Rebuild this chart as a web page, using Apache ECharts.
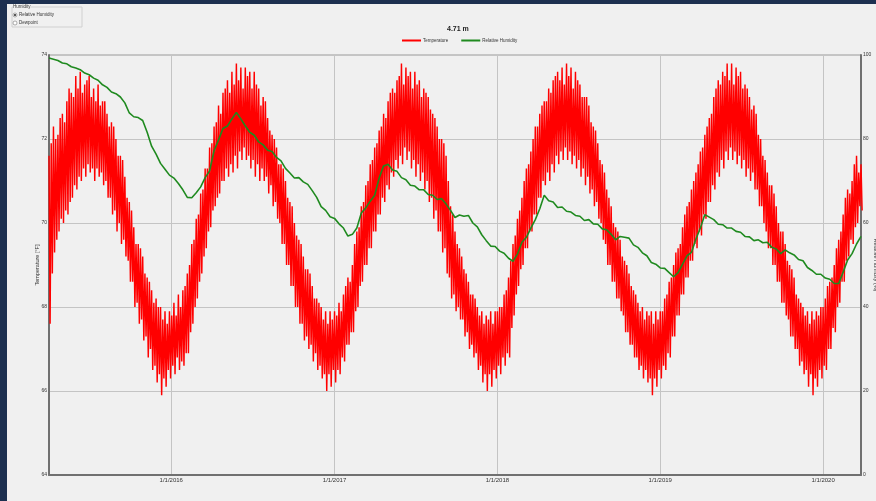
<!DOCTYPE html>
<html>
<head>
<meta charset="utf-8">
<script src="https://cdn.jsdelivr.net/npm/echarts@6/dist/echarts.min.js"></script>
<style>
  html, body { margin: 0; padding: 0; width: 876px; height: 501px; overflow: hidden; background: #1d3050; }
  #chart { position: absolute; left: 7px; top: 4px; width: 869px; height: 497px; background: #f0f0f0; }
</style>
</head>
<body>
<div id="chart"></div>
<script>
// Sensor record starting 2 Apr 2015.
// Temperature: high and low of each 5-day window (°F).
// Relative humidity: one reading every 10 days (%).
const startYear = 2015, startMonth = 3, startDay = 2;
const tempStepDays = 5;
const humidityStepDays = 10;

const tempHigh = [
  71.6, 71.9, 72.3, 72.0, 72.1, 72.5, 72.6, 72.4, 72.9, 73.2,
  73.1, 73.0, 73.5, 73.2, 73.6, 73.1, 73.3, 73.4, 73.5, 73.0,
  73.2, 72.9, 73.3, 72.8, 72.9, 72.9, 72.6, 72.3, 72.4, 72.3,
  72.0, 71.6, 71.6, 71.5, 71.1, 70.6, 70.5, 70.3, 69.9, 69.5,
  69.5, 69.4, 69.2, 68.8, 68.7, 68.6, 68.4, 68.1, 68.2, 68.0,
  68.0, 67.7, 67.9, 67.6, 67.9, 67.8, 68.1, 67.8, 68.3, 68.0,
  68.4, 68.5, 68.8, 69.0, 69.5, 69.6, 70.1, 70.2, 70.7, 70.8,
  71.3, 71.3, 71.8, 71.9, 72.3, 72.4, 72.8, 72.6, 73.1, 73.2,
  73.4, 73.1, 73.6, 73.3, 73.8, 73.4, 73.7, 73.2, 73.7, 73.5,
  73.6, 73.2, 73.6, 73.3, 73.2, 72.8, 73.0, 72.9, 72.5, 72.2,
  72.1, 72.0, 71.8, 71.4, 71.4, 71.3, 71.0, 70.6, 70.5, 70.4,
  70.0, 69.7, 69.6, 69.5, 69.2, 68.9, 68.9, 68.8, 68.5, 68.2,
  68.2, 68.1, 68.0, 67.7, 67.9, 67.6, 67.9, 67.7, 67.9, 67.8,
  68.1, 67.9, 68.3, 68.5, 68.7, 68.6, 69.0, 69.5, 69.8, 69.9,
  70.4, 70.5, 70.9, 71.0, 71.4, 71.5, 71.8, 71.9, 72.2, 72.3,
  72.6, 72.5, 72.9, 73.1, 73.2, 73.1, 73.4, 73.5, 73.8, 73.3,
  73.7, 73.5, 73.6, 73.2, 73.6, 73.3, 73.4, 73.0, 73.2, 73.1,
  73.0, 72.7, 72.6, 72.5, 72.3, 72.0, 72.0, 71.9, 71.6, 71.0,
  70.4, 70.2, 69.8, 69.5, 69.4, 69.2, 68.9, 68.8, 68.6, 68.3,
  68.3, 68.2, 68.0, 67.8, 67.9, 67.6, 67.8, 67.7, 67.9, 67.6,
  67.9, 67.9, 68.0, 68.0, 68.3, 68.4, 68.7, 69.1, 69.5, 69.7,
  70.1, 70.3, 70.6, 71.0, 71.3, 71.4, 71.7, 72.0, 72.3, 72.3,
  72.6, 72.8, 72.9, 72.9, 73.2, 73.1, 73.4, 73.5, 73.6, 73.4,
  73.7, 73.3, 73.8, 73.5, 73.7, 73.2, 73.6, 73.4, 73.3, 73.0,
  73.0, 73.0, 72.8, 72.4, 72.3, 72.2, 71.9, 71.5, 71.4, 71.2,
  70.8, 70.6, 70.4, 70.0, 69.9, 69.8, 69.6, 69.2, 69.1, 69.0,
  68.8, 68.5, 68.4, 68.3, 68.1, 67.9, 68.0, 67.7, 67.9, 67.8,
  67.9, 67.6, 67.9, 67.7, 67.9, 67.9, 68.2, 68.3, 68.6, 68.7,
  69.0, 69.3, 69.4, 69.5, 69.9, 70.2, 70.4, 70.5, 70.8, 71.0,
  71.2, 71.4, 71.7, 71.8, 72.1, 72.3, 72.5, 72.6, 73.0, 73.2,
  73.4, 73.3, 73.6, 73.5, 73.8, 73.4, 73.8, 73.3, 73.7, 73.5,
  73.6, 73.2, 73.3, 73.2, 73.0, 72.7, 72.8, 72.6, 72.1, 72.0,
  71.6, 71.5, 71.2, 70.9, 70.9, 70.7, 70.4, 70.0, 69.8, 69.8,
  69.5, 69.1, 69.0, 68.9, 68.7, 68.3, 68.2, 68.1, 68.0, 67.8,
  67.9, 67.6, 67.9, 67.7, 67.9, 67.8, 68.0, 68.0, 68.2, 68.5,
  68.6, 68.7, 69.0, 69.4, 69.6, 69.8, 70.2, 70.6, 70.8, 70.7,
  71.0, 71.4, 71.6, 71.2, 71.4
];

const tempLow = [
  67.6, 68.8, 69.3, 69.6, 69.8, 70.1, 70.0, 70.3, 70.2, 70.5,
  70.6, 70.9, 70.8, 71.1, 71.0, 71.3, 71.1, 71.4, 71.2, 71.3,
  71.0, 71.3, 71.1, 71.2, 70.9, 71.0, 70.6, 70.6, 70.2, 70.3,
  69.8, 70.0, 69.5, 69.6, 69.2, 69.1, 68.6, 68.6, 68.0, 68.1,
  67.6, 67.7, 67.2, 67.3, 66.8, 67.0, 66.5, 66.6, 66.2, 66.4,
  65.9, 66.3, 66.1, 66.5, 66.3, 66.6, 66.4, 66.8, 66.5, 66.7,
  66.6, 66.9, 66.9, 67.4, 67.6, 68.0, 68.2, 68.6, 68.8, 69.2,
  69.4, 69.8, 69.9, 70.3, 70.4, 70.6, 70.7, 71.0, 71.0, 71.3,
  71.1, 71.4, 71.2, 71.6, 71.3, 71.7, 71.5, 71.8, 71.5, 71.6,
  71.3, 71.5, 71.1, 71.4, 71.0, 71.3, 71.0, 71.1, 70.7, 70.9,
  70.4, 70.5, 70.1, 70.0, 69.5, 69.5, 69.0, 69.0, 68.5, 68.5,
  68.0, 68.0, 67.6, 67.6, 67.2, 67.3, 67.0, 67.1, 66.7, 66.9,
  66.5, 66.6, 66.3, 66.4, 66.0, 66.4, 66.1, 66.5, 66.2, 66.5,
  66.4, 66.8, 66.7, 67.1, 67.1, 67.4, 67.4, 67.9, 68.0, 68.5,
  68.6, 69.0, 69.0, 69.4, 69.4, 69.8, 69.8, 70.2, 70.2, 70.6,
  70.5, 70.9, 70.8, 71.2, 71.1, 71.5, 71.3, 71.6, 71.4, 71.8,
  71.5, 71.7, 71.3, 71.5, 71.1, 71.4, 71.0, 71.2, 70.8, 71.0,
  70.5, 70.6, 70.1, 70.3, 69.8, 69.8, 69.3, 69.4, 68.8, 68.7,
  68.2, 68.3, 67.9, 68.0, 67.7, 67.7, 67.3, 67.4, 67.0, 67.1,
  66.8, 66.9, 66.5, 66.6, 66.2, 66.4, 66.0, 66.4, 66.1, 66.5,
  66.3, 66.6, 66.4, 66.8, 66.6, 66.9, 66.8, 67.5, 67.8, 68.3,
  68.5, 68.9, 69.0, 69.4, 69.4, 69.8, 69.8, 70.2, 70.2, 70.6,
  70.6, 71.0, 70.9, 71.2, 71.0, 71.4, 71.2, 71.6, 71.4, 71.7,
  71.5, 71.8, 71.5, 71.7, 71.4, 71.6, 71.3, 71.5, 71.1, 71.3,
  70.9, 71.1, 70.7, 70.8, 70.4, 70.5, 70.1, 70.0, 69.6, 69.5,
  69.0, 69.0, 68.6, 68.6, 68.2, 68.2, 67.9, 67.8, 67.4, 67.4,
  67.1, 67.1, 66.8, 66.8, 66.5, 66.6, 66.3, 66.5, 66.2, 66.3,
  65.9, 66.3, 66.1, 66.5, 66.3, 66.6, 66.5, 66.9, 66.8, 67.3,
  67.3, 67.8, 67.8, 68.3, 68.3, 68.7, 68.7, 69.1, 69.1, 69.5,
  69.4, 69.8, 69.7, 70.2, 70.1, 70.5, 70.5, 70.9, 70.8, 71.2,
  71.1, 71.5, 71.3, 71.7, 71.5, 71.8, 71.5, 71.7, 71.4, 71.6,
  71.3, 71.5, 71.1, 71.3, 71.0, 71.2, 70.8, 70.8, 70.4, 70.4,
  70.0, 69.8, 69.4, 69.4, 69.0, 69.0, 68.6, 68.6, 68.1, 68.1,
  67.8, 67.7, 67.3, 67.3, 67.0, 67.0, 66.6, 66.7, 66.4, 66.5,
  66.1, 66.4, 65.9, 66.3, 66.1, 66.5, 66.3, 66.6, 66.5, 67.0,
  67.0, 67.5, 67.4, 68.0, 68.1, 68.6, 68.6, 69.1, 69.2, 69.6,
  69.5, 69.9, 70.0, 70.4, 70.3
];

const humidity = [
  99.3, 99.0, 98.7, 98.1, 97.9, 97.2, 96.9, 96.5, 95.7, 95.3,
  94.5, 94.0, 92.9, 92.3, 91.2, 90.8, 90.0, 88.6, 86.2, 85.3,
  85.1, 84.4, 81.6, 78.3, 76.4, 74.2, 72.8, 71.4, 70.7, 69.4,
  67.9, 66.1, 66.0, 67.2, 68.6, 70.8, 72.4, 77.2, 79.8, 82.5,
  83.1, 84.8, 86.3, 84.8, 83.1, 81.6, 80.9, 79.3, 78.6, 77.3,
  77.0, 75.6, 74.8, 73.0, 71.9, 70.7, 70.8, 69.8, 69.2, 67.7,
  66.1, 63.9, 63.0, 61.5, 61.1, 59.8, 58.8, 56.9, 57.3, 58.8,
  62.4, 63.6, 65.2, 66.6, 70.7, 73.6, 74.0, 72.6, 72.3, 70.8,
  70.3, 69.0, 68.8, 67.9, 67.9, 66.8, 66.6, 65.6, 65.8, 64.5,
  63.0, 61.3, 61.9, 61.6, 61.8, 60.0, 59.1, 57.2, 55.8, 54.5,
  54.4, 53.3, 52.8, 51.6, 50.9, 52.6, 55.4, 56.6, 58.8, 60.8,
  63.4, 66.6, 65.3, 65.0, 63.7, 63.8, 62.8, 62.6, 61.8, 61.6,
  60.6, 60.8, 59.8, 59.7, 58.6, 58.4, 57.3, 56.0, 56.8, 56.6,
  56.4, 54.8, 54.2, 52.9, 52.2, 50.6, 50.2, 49.3, 49.2, 48.2,
  47.2, 48.2, 50.2, 52.2, 53.0, 56.2, 58.8, 62.0, 61.4, 60.8,
  59.7, 59.6, 58.8, 58.8, 58.0, 57.8, 56.8, 56.7, 55.8, 56.0,
  55.3, 55.4, 54.2, 53.8, 52.7, 53.6, 52.9, 52.4, 51.3, 51.0,
  49.4, 48.7, 47.8, 47.8, 46.9, 46.6, 45.6, 45.6, 48.3, 51.2,
  52.7, 55.0, 56.8
];

const tempTicks = [64, 66, 68, 70, 72, 74];
const humidityTicks = [0, 20, 40, 60, 80, 100];

const DAY = 86400000;
const dayTime = d => new Date(startYear, startMonth, startDay + d).getTime();

// Each window contributes its high, then its low half a window later.
const tempSeries = [];
tempHigh.forEach((hi, i) => {
  const t = dayTime(i * tempStepDays);
  tempSeries.push([t, hi]);
  tempSeries.push([t + (tempStepDays / 2) * DAY, tempLow[i]]);
});
const humiditySeries = humidity.map((h, i) => [dayTime(i * humidityStepDays), h]);

const FONT = 'Liberation Sans, Arial, sans-serif';
const chart = echarts.init(document.getElementById('chart'), null, { renderer: 'canvas' });

const fmtDate = v => {
  const d = new Date(v);
  return (d.getMonth() + 1) + '/' + d.getDate() + '/' + d.getFullYear();
};

chart.setOption({
  animation: false,
  backgroundColor: '#f0f0f0',
  title: {
    text: '4.71 m',
    left: 440, top: 22, padding: 0,
    textStyle: { fontFamily: FONT, fontSize: 7, fontWeight: 'bold', color: '#222' }
  },
  legend: {
    left: 395, top: 34, padding: 0,
    itemWidth: 19, itemHeight: 2, itemGap: 13,
    icon: 'rect',
    textStyle: { fontFamily: FONT, fontSize: 4.5, color: '#333', padding: [0, 0, 0, -3] },
    data: ['Temperature', 'Relative Humidity']
  },
  grid: {
    left: 42, top: 51, width: 812, height: 420,
    show: true, borderColor: '#9a9a9a', borderWidth: 1,
    containLabel: false,
    outerBoundsMode: 'none'
  },
  xAxis: {
    type: 'time',
    min: new Date(2015, 3, 2).getTime(),
    max: new Date(2020, 2, 26).getTime(),
    minInterval: 300 * DAY,
    maxInterval: 400 * DAY,
    axisLine: { lineStyle: { color: '#707070', width: 2 } },
    axisTick: { show: false },
    splitLine: { show: true, lineStyle: { color: '#c4c4c4', width: 1 } },
    axisLabel: {
      formatter: fmtDate, showMinLabel: false, showMaxLabel: false,
      margin: 2, fontFamily: FONT, fontSize: 6, color: '#333', hideOverlap: false
    }
  },
  yAxis: [
    {
      type: 'value', min: tempTicks[0], max: tempTicks[tempTicks.length - 1], interval: 2,
      name: 'Temperature [°F]', nameLocation: 'middle', nameGap: 9, nameRotate: 90,
      nameMoveOverlap: false,
      nameTextStyle: { fontFamily: FONT, fontSize: 5.5, color: '#333' },
      axisLine: { show: true, lineStyle: { color: '#707070', width: 2 } },
      axisTick: { show: false },
      splitLine: { show: true, lineStyle: { color: '#c4c4c4', width: 1 } },
      axisLabel: { margin: 2, fontFamily: FONT, fontSize: 5, color: '#333' }
    },
    {
      type: 'value', min: humidityTicks[0], max: humidityTicks[humidityTicks.length - 1], interval: 20,
      position: 'right',
      name: 'Relative Humidity (%)', nameLocation: 'middle', nameGap: 12, nameRotate: -90,
      nameMoveOverlap: false,
      nameTextStyle: { fontFamily: FONT, fontSize: 5.5, color: '#333' },
      axisLine: { show: true, lineStyle: { color: '#707070', width: 2 } },
      axisTick: { show: false },
      splitLine: { show: false },
      axisLabel: { margin: 2, fontFamily: FONT, fontSize: 5, color: '#333' }
    }
  ],
  series: [
    {
      name: 'Temperature', type: 'line', yAxisIndex: 0,
      data: tempSeries, showSymbol: false, symbol: 'none', sampling: null,
      lineStyle: { color: '#ff0000', width: 1.45 }, itemStyle: { color: '#ff0000' },
      z: 2
    },
    {
      name: 'Relative Humidity', type: 'line', yAxisIndex: 1,
      data: humiditySeries, showSymbol: false, symbol: 'none',
      lineStyle: { color: '#1f8a1f', width: 1.6 }, itemStyle: { color: '#1f8a1f' },
      z: 3
    }
  ],
  graphic: [
    { type: 'rect', shape: { x: 5, y: 3, width: 70, height: 20 },
      style: { fill: 'none', stroke: '#d0d0d0', lineWidth: 1 } },
    { type: 'text', x: 6, y: 3,
      style: { text: 'Humidity', fontFamily: FONT, fontSize: 4.5, fill: '#333', verticalAlign: 'middle', backgroundColor: '#f0f0f0' } },
    { type: 'circle', shape: { cx: 8, cy: 11, r: 2 },
      style: { fill: '#fff', stroke: '#777', lineWidth: 0.6 } },
    { type: 'circle', shape: { cx: 8, cy: 11, r: 1 }, style: { fill: '#222' } },
    { type: 'text', x: 12, y: 11,
      style: { text: 'Relative Humidity', fontFamily: FONT, fontSize: 4.5, fill: '#333', verticalAlign: 'middle' } },
    { type: 'circle', shape: { cx: 8, cy: 19, r: 2 },
      style: { fill: '#fff', stroke: '#777', lineWidth: 0.6 } },
    { type: 'text', x: 12, y: 19,
      style: { text: 'Dewpoint', fontFamily: FONT, fontSize: 4.5, fill: '#333', verticalAlign: 'middle' } }
  ]
});
</script>
</body>
</html>
